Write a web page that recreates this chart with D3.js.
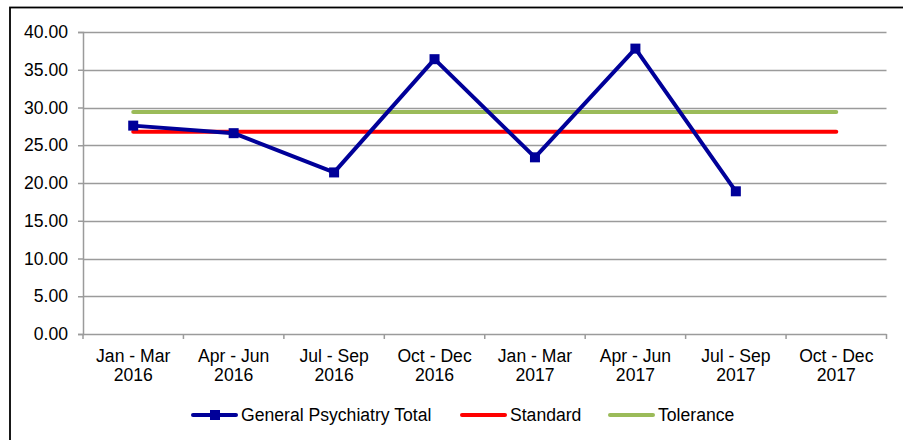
<!DOCTYPE html>
<html>
<head>
<meta charset="utf-8">
<script src="https://cdn.jsdelivr.net/npm/d3@7/dist/d3.min.js"></script>
<style>
  html, body { margin: 0; padding: 0; background: #fff; }
  svg { display: block; }
  text { font-family: "Liberation Sans", Arial, sans-serif; fill: #000; }
</style>
</head>
<body>
<svg id="chart" width="903" height="440"></svg>
<script>
// Quarterly periods shown along the x axis (two lines each)
const categories = [
  ["Jan - Mar", "2016"], ["Apr - Jun", "2016"], ["Jul - Sep", "2016"], ["Oct - Dec", "2016"],
  ["Jan - Mar", "2017"], ["Apr - Jun", "2017"], ["Jul - Sep", "2017"], ["Oct - Dec", "2017"]
];
// General Psychiatry Total per quarter (null = not yet reported)
const totalValues = [27.6, 26.6, 21.4, 36.4, 23.4, 37.8, 18.9, null];
const standardValues = [26.8, 26.8, 26.8, 26.8, 26.8, 26.8, 26.8, 26.8];
const toleranceValues = [29.4, 29.4, 29.4, 29.4, 29.4, 29.4, 29.4, 29.4];
const yTicks = [0, 5, 10, 15, 20, 25, 30, 35, 40];
const seriesNames = ["General Psychiatry Total", "Standard", "Tolerance"];

const fontSize = 17.6;
const svg = d3.select("#chart");

// Outer chart frame (runs off the right and bottom edges)
svg.append("rect")
  .attr("x", 10).attr("y", 7.5)
  .attr("width", 1000).attr("height", 1000)
  .attr("fill", "none").attr("stroke", "#000").attr("stroke-width", 1.8);

const plotLeft = 83, plotRight = 886.5, plotTop = 32, plotBottom = 334;

const x = d3.scaleBand().domain(d3.range(categories.length)).range([plotLeft, plotRight]);
const y = d3.scaleLinear().domain([0, 40]).range([plotBottom, plotTop]);
const cx = i => x(i) + x.bandwidth() / 2;

// Horizontal gridlines
svg.append("g").selectAll("line").data(yTicks.filter(t => t > 0)).join("line")
  .attr("x1", plotLeft).attr("x2", plotRight)
  .attr("y1", d => Math.round(y(d)) + 0.5).attr("y2", d => Math.round(y(d)) + 0.5)
  .attr("stroke", "#9b9b9b").attr("stroke-width", 1.5);

// Y axis
const yAxis = svg.append("g")
  .attr("transform", `translate(${plotLeft},0)`)
  .call(d3.axisLeft(y).tickValues(yTicks).tickFormat(d3.format(".2f")).tickSize(5).tickPadding(10));
yAxis.attr("font-size", fontSize).attr("font-family", "Liberation Sans, Arial, sans-serif");
yAxis.select(".domain").attr("stroke", "#9b9b9b").attr("stroke-width", 1.5);
yAxis.selectAll(".tick line").attr("stroke", "#9b9b9b").attr("stroke-width", 1.5);
yAxis.selectAll(".tick text").attr("fill", "#000");

// X axis with ticks on category boundaries
const xg = svg.append("g");
xg.append("line").attr("x1", plotLeft).attr("x2", plotRight)
  .attr("y1", plotBottom + 0.5).attr("y2", plotBottom + 0.5)
  .attr("stroke", "#9b9b9b").attr("stroke-width", 1.5);
const boundaries = d3.range(categories.length + 1).map(i => i < categories.length ? x(i) : plotRight);
xg.selectAll("line.tick").data(boundaries).join("line").attr("class", "tick")
  .attr("x1", d => d).attr("x2", d => d)
  .attr("y1", plotBottom).attr("y2", plotBottom + 5)
  .attr("stroke", "#9b9b9b").attr("stroke-width", 1.5);
const lbl = xg.selectAll("text").data(categories).join("text")
  .attr("text-anchor", "middle").attr("font-size", fontSize)
  .attr("transform", (d, i) => `translate(${cx(i)},0)`);
lbl.append("tspan").attr("x", 0).attr("y", 362).text(d => d[0]);
lbl.append("tspan").attr("x", 0).attr("y", 381).text(d => d[1]);

// Reference lines
const flatLine = d3.line().x((d, i) => cx(i)).y(d => y(d));
svg.append("path").datum(toleranceValues)
  .attr("d", flatLine).attr("fill", "none")
  .attr("stroke", "#9bbb59").attr("stroke-width", 4).attr("stroke-linecap", "round");
svg.append("path").datum(standardValues)
  .attr("d", flatLine).attr("fill", "none")
  .attr("stroke", "#ff0000").attr("stroke-width", 4).attr("stroke-linecap", "round");

// Main series
const mainLine = d3.line().defined(d => d != null).x((d, i) => cx(i)).y(d => y(d));
svg.append("path").datum(totalValues)
  .attr("d", mainLine).attr("fill", "none")
  .attr("stroke", "#000099").attr("stroke-width", 4).attr("stroke-linejoin", "round");
svg.append("g").selectAll("rect")
  .data(totalValues.map((v, i) => ({ v, i })).filter(d => d.v != null)).join("rect")
  .attr("x", d => cx(d.i) - 5).attr("y", d => y(d.v) - 5)
  .attr("width", 10).attr("height", 10).attr("fill", "#000099");

// Legend
const legendY = 415;
const legend = [
  { name: seriesNames[0], color: "#000099", x0: 193, marker: true },
  { name: seriesNames[1], color: "#ff0000", x0: 462, marker: false },
  { name: seriesNames[2], color: "#9bbb59", x0: 610, marker: false }
];
const lg = svg.append("g").selectAll("g").data(legend).join("g");
lg.append("line")
  .attr("x1", d => d.x0).attr("x2", d => d.x0 + 43)
  .attr("y1", legendY).attr("y2", legendY)
  .attr("stroke", d => d.color).attr("stroke-width", 4).attr("stroke-linecap", "round");
lg.filter(d => d.marker).append("rect")
  .attr("x", d => d.x0 + 17).attr("y", legendY - 5).attr("width", 10).attr("height", 10)
  .attr("fill", d => d.color);
lg.append("text")
  .attr("x", d => d.x0 + 48).attr("y", legendY + 6)
  .attr("font-size", fontSize).text(d => d.name);
</script>
</body>
</html>
